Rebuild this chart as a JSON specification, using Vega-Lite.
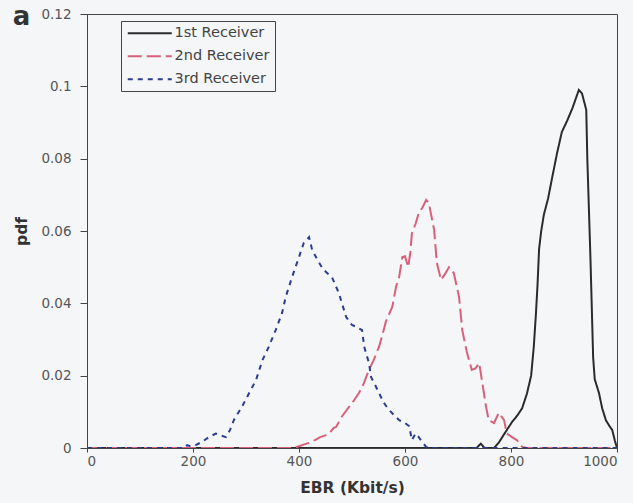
{
  "$schema": "https://vega.github.io/schema/vega-lite/v6.json",
  "width": 530,
  "height": 434,
  "autosize": {"type": "none"},
  "padding": {"left": 87, "top": 14, "right": 16, "bottom": 55},
  "background": "#f5f6f8",
  "config": {
    "view": {"stroke": "#444444", "strokeWidth": 1},
    "axis": {"grid": false, "labelFont": "DejaVu Sans", "labelFontSize": 13.5, "labelColor": "#555555", "domainColor": "#444444", "tickColor": "#444444", "titleFont": "DejaVu Sans", "titleFontSize": 15.5, "titleFontWeight": "bold", "titleColor": "#333333"},
    "legend": {"title": null, "orient": "none", "legendX": 34, "legendY": 7, "strokeColor": "#444444", "padding": 5, "symbolType": "M-1,0H7", "symbolSize": 121, "symbolStrokeWidth": 2, "labelFont": "DejaVu Sans", "labelFontSize": 14.5, "labelColor": "#444444", "labelOffset": 34, "rowPadding": 8}
  },
  "layer": [
    {
      "data": {
        "values": [
          {"series": "1st Receiver", "x": 0, "y": 0},
          {"series": "1st Receiver", "x": 735, "y": 0},
          {"series": "1st Receiver", "x": 743, "y": 0.0012},
          {"series": "1st Receiver", "x": 750, "y": 0},
          {"series": "1st Receiver", "x": 768, "y": 0},
          {"series": "1st Receiver", "x": 777, "y": 0.0015},
          {"series": "1st Receiver", "x": 790, "y": 0.0045},
          {"series": "1st Receiver", "x": 802, "y": 0.0072},
          {"series": "1st Receiver", "x": 812, "y": 0.009},
          {"series": "1st Receiver", "x": 821, "y": 0.011},
          {"series": "1st Receiver", "x": 830, "y": 0.015},
          {"series": "1st Receiver", "x": 838, "y": 0.02},
          {"series": "1st Receiver", "x": 843, "y": 0.028},
          {"series": "1st Receiver", "x": 847, "y": 0.037},
          {"series": "1st Receiver", "x": 850, "y": 0.045},
          {"series": "1st Receiver", "x": 853, "y": 0.055},
          {"series": "1st Receiver", "x": 857, "y": 0.06},
          {"series": "1st Receiver", "x": 862, "y": 0.0645},
          {"series": "1st Receiver", "x": 870, "y": 0.069},
          {"series": "1st Receiver", "x": 878, "y": 0.075},
          {"series": "1st Receiver", "x": 887, "y": 0.0816},
          {"series": "1st Receiver", "x": 896, "y": 0.0874},
          {"series": "1st Receiver", "x": 906, "y": 0.0905},
          {"series": "1st Receiver", "x": 916, "y": 0.094},
          {"series": "1st Receiver", "x": 928, "y": 0.099},
          {"series": "1st Receiver", "x": 934, "y": 0.098},
          {"series": "1st Receiver", "x": 942, "y": 0.0935},
          {"series": "1st Receiver", "x": 944, "y": 0.08},
          {"series": "1st Receiver", "x": 950, "y": 0.052},
          {"series": "1st Receiver", "x": 955, "y": 0.025},
          {"series": "1st Receiver", "x": 958, "y": 0.019},
          {"series": "1st Receiver", "x": 966, "y": 0.0152},
          {"series": "1st Receiver", "x": 972, "y": 0.011},
          {"series": "1st Receiver", "x": 979, "y": 0.0077},
          {"series": "1st Receiver", "x": 986, "y": 0.006},
          {"series": "1st Receiver", "x": 991, "y": 0.005},
          {"series": "1st Receiver", "x": 996, "y": 0.002},
          {"series": "1st Receiver", "x": 1000, "y": 0},
          {"series": "2nd Receiver", "x": 0, "y": 0},
          {"series": "2nd Receiver", "x": 390, "y": 0},
          {"series": "2nd Receiver", "x": 400, "y": 0.0005},
          {"series": "2nd Receiver", "x": 410, "y": 0.001},
          {"series": "2nd Receiver", "x": 419, "y": 0.0014},
          {"series": "2nd Receiver", "x": 430, "y": 0.0022},
          {"series": "2nd Receiver", "x": 440, "y": 0.003},
          {"series": "2nd Receiver", "x": 450, "y": 0.0035},
          {"series": "2nd Receiver", "x": 457, "y": 0.004},
          {"series": "2nd Receiver", "x": 465, "y": 0.0055},
          {"series": "2nd Receiver", "x": 470, "y": 0.0058},
          {"series": "2nd Receiver", "x": 480, "y": 0.0085},
          {"series": "2nd Receiver", "x": 494, "y": 0.0113},
          {"series": "2nd Receiver", "x": 503, "y": 0.013},
          {"series": "2nd Receiver", "x": 513, "y": 0.0152},
          {"series": "2nd Receiver", "x": 520, "y": 0.017},
          {"series": "2nd Receiver", "x": 532, "y": 0.0216},
          {"series": "2nd Receiver", "x": 540, "y": 0.024},
          {"series": "2nd Receiver", "x": 551, "y": 0.028},
          {"series": "2nd Receiver", "x": 557, "y": 0.031},
          {"series": "2nd Receiver", "x": 564, "y": 0.035},
          {"series": "2nd Receiver", "x": 570, "y": 0.037},
          {"series": "2nd Receiver", "x": 576, "y": 0.039},
          {"series": "2nd Receiver", "x": 583, "y": 0.0445},
          {"series": "2nd Receiver", "x": 589, "y": 0.0473},
          {"series": "2nd Receiver", "x": 595, "y": 0.0528},
          {"series": "2nd Receiver", "x": 600, "y": 0.053},
          {"series": "2nd Receiver", "x": 606, "y": 0.05},
          {"series": "2nd Receiver", "x": 610, "y": 0.054},
          {"series": "2nd Receiver", "x": 613, "y": 0.0594},
          {"series": "2nd Receiver", "x": 620, "y": 0.062},
          {"series": "2nd Receiver", "x": 626, "y": 0.065},
          {"series": "2nd Receiver", "x": 633, "y": 0.0665},
          {"series": "2nd Receiver", "x": 640, "y": 0.0686},
          {"series": "2nd Receiver", "x": 645, "y": 0.0677},
          {"series": "2nd Receiver", "x": 650, "y": 0.064},
          {"series": "2nd Receiver", "x": 655, "y": 0.0603},
          {"series": "2nd Receiver", "x": 660, "y": 0.0512},
          {"series": "2nd Receiver", "x": 668, "y": 0.0465},
          {"series": "2nd Receiver", "x": 675, "y": 0.048},
          {"series": "2nd Receiver", "x": 683, "y": 0.05},
          {"series": "2nd Receiver", "x": 692, "y": 0.0484},
          {"series": "2nd Receiver", "x": 702, "y": 0.0418},
          {"series": "2nd Receiver", "x": 708, "y": 0.0326},
          {"series": "2nd Receiver", "x": 717, "y": 0.0263},
          {"series": "2nd Receiver", "x": 726, "y": 0.0216},
          {"series": "2nd Receiver", "x": 733, "y": 0.022},
          {"series": "2nd Receiver", "x": 740, "y": 0.0235},
          {"series": "2nd Receiver", "x": 745, "y": 0.0188},
          {"series": "2nd Receiver", "x": 753, "y": 0.0113},
          {"series": "2nd Receiver", "x": 758, "y": 0.0077},
          {"series": "2nd Receiver", "x": 768, "y": 0.0069},
          {"series": "2nd Receiver", "x": 777, "y": 0.0097},
          {"series": "2nd Receiver", "x": 787, "y": 0.0077},
          {"series": "2nd Receiver", "x": 792, "y": 0.004},
          {"series": "2nd Receiver", "x": 802, "y": 0.003},
          {"series": "2nd Receiver", "x": 811, "y": 0.0022},
          {"series": "2nd Receiver", "x": 821, "y": 0.0003},
          {"series": "2nd Receiver", "x": 830, "y": 0},
          {"series": "2nd Receiver", "x": 1000, "y": 0},
          {"series": "3rd Receiver", "x": 0, "y": 0},
          {"series": "3rd Receiver", "x": 185, "y": 0},
          {"series": "3rd Receiver", "x": 189, "y": 0.0008},
          {"series": "3rd Receiver", "x": 195, "y": 0.0005},
          {"series": "3rd Receiver", "x": 205, "y": 0.0008},
          {"series": "3rd Receiver", "x": 217, "y": 0.0017},
          {"series": "3rd Receiver", "x": 230, "y": 0.003},
          {"series": "3rd Receiver", "x": 243, "y": 0.004},
          {"series": "3rd Receiver", "x": 252, "y": 0.0035},
          {"series": "3rd Receiver", "x": 262, "y": 0.003},
          {"series": "3rd Receiver", "x": 270, "y": 0.005},
          {"series": "3rd Receiver", "x": 277, "y": 0.0077},
          {"series": "3rd Receiver", "x": 292, "y": 0.0113},
          {"series": "3rd Receiver", "x": 306, "y": 0.0152},
          {"series": "3rd Receiver", "x": 319, "y": 0.0188},
          {"series": "3rd Receiver", "x": 331, "y": 0.0243},
          {"series": "3rd Receiver", "x": 343, "y": 0.028},
          {"series": "3rd Receiver", "x": 356, "y": 0.0326},
          {"series": "3rd Receiver", "x": 368, "y": 0.0373},
          {"series": "3rd Receiver", "x": 375, "y": 0.0418},
          {"series": "3rd Receiver", "x": 387, "y": 0.0473},
          {"series": "3rd Receiver", "x": 400, "y": 0.0528},
          {"series": "3rd Receiver", "x": 409, "y": 0.0567},
          {"series": "3rd Receiver", "x": 419, "y": 0.0583},
          {"series": "3rd Receiver", "x": 425, "y": 0.0547},
          {"series": "3rd Receiver", "x": 435, "y": 0.052},
          {"series": "3rd Receiver", "x": 443, "y": 0.05},
          {"series": "3rd Receiver", "x": 452, "y": 0.0485},
          {"series": "3rd Receiver", "x": 462, "y": 0.0473},
          {"series": "3rd Receiver", "x": 475, "y": 0.0429},
          {"series": "3rd Receiver", "x": 489, "y": 0.0362},
          {"series": "3rd Receiver", "x": 500, "y": 0.034},
          {"series": "3rd Receiver", "x": 508, "y": 0.0335},
          {"series": "3rd Receiver", "x": 519, "y": 0.0326},
          {"series": "3rd Receiver", "x": 523, "y": 0.028},
          {"series": "3rd Receiver", "x": 532, "y": 0.0235},
          {"series": "3rd Receiver", "x": 536, "y": 0.0196},
          {"series": "3rd Receiver", "x": 545, "y": 0.017},
          {"series": "3rd Receiver", "x": 551, "y": 0.0152},
          {"series": "3rd Receiver", "x": 560, "y": 0.0125},
          {"series": "3rd Receiver", "x": 570, "y": 0.0105},
          {"series": "3rd Receiver", "x": 580, "y": 0.009},
          {"series": "3rd Receiver", "x": 589, "y": 0.0077},
          {"series": "3rd Receiver", "x": 600, "y": 0.0069},
          {"series": "3rd Receiver", "x": 608, "y": 0.006},
          {"series": "3rd Receiver", "x": 613, "y": 0.0022},
          {"series": "3rd Receiver", "x": 620, "y": 0.004},
          {"series": "3rd Receiver", "x": 626, "y": 0.003},
          {"series": "3rd Receiver", "x": 633, "y": 0.0015},
          {"series": "3rd Receiver", "x": 640, "y": 0.0003},
          {"series": "3rd Receiver", "x": 650, "y": 0},
          {"series": "3rd Receiver", "x": 1000, "y": 0}
        ]
      },
      "mark": {"type": "line", "strokeWidth": 2, "clip": true},
      "encoding": {
        "x": {"field": "x", "type": "quantitative", "scale": {"domain": [0, 1000], "nice": false},
          "axis": {"title": "EBR (Kbit/s)", "values": [0, 200, 400, 600, 800, 1000], "labelExpr": "format(datum.value, 'd')", "tickSize": 4, "labelPadding": 2, "titlePadding": 13}},
        "y": {"field": "y", "type": "quantitative", "scale": {"domain": [0, 0.12], "nice": false},
          "axis": {"title": "pdf", "values": [0, 0.02, 0.04, 0.06, 0.08, 0.1, 0.12], "labelExpr": "format(datum.value, '.2~f')", "tickSize": 7, "labelPadding": 9, "titlePadding": 11}},
        "color": {"field": "series", "type": "nominal",
          "scale": {"domain": ["1st Receiver", "2nd Receiver", "3rd Receiver"], "range": ["#2b2b2b", "#d9607a", "#2a3d8f"]},
          "legend": {"title": null}},
        "strokeDash": {"field": "series", "type": "nominal",
          "scale": {"domain": ["1st Receiver", "2nd Receiver", "3rd Receiver"], "range": [[1, 0], [14, 5], [5, 5]]},
          "legend": {"title": null}}
      }
    },
    {
      "data": {"values": [{"label": "a"}]},
      "mark": {"type": "text", "font": "DejaVu Sans", "fontSize": 26, "fontWeight": "bold", "color": "#333333", "align": "left", "baseline": "alphabetic", "clip": false},
      "encoding": {
        "x": {"datum": -140, "type": "quantitative"},
        "y": {"datum": 0.117, "type": "quantitative"},
        "text": {"field": "label", "type": "nominal"}
      }
    }
  ]
}
